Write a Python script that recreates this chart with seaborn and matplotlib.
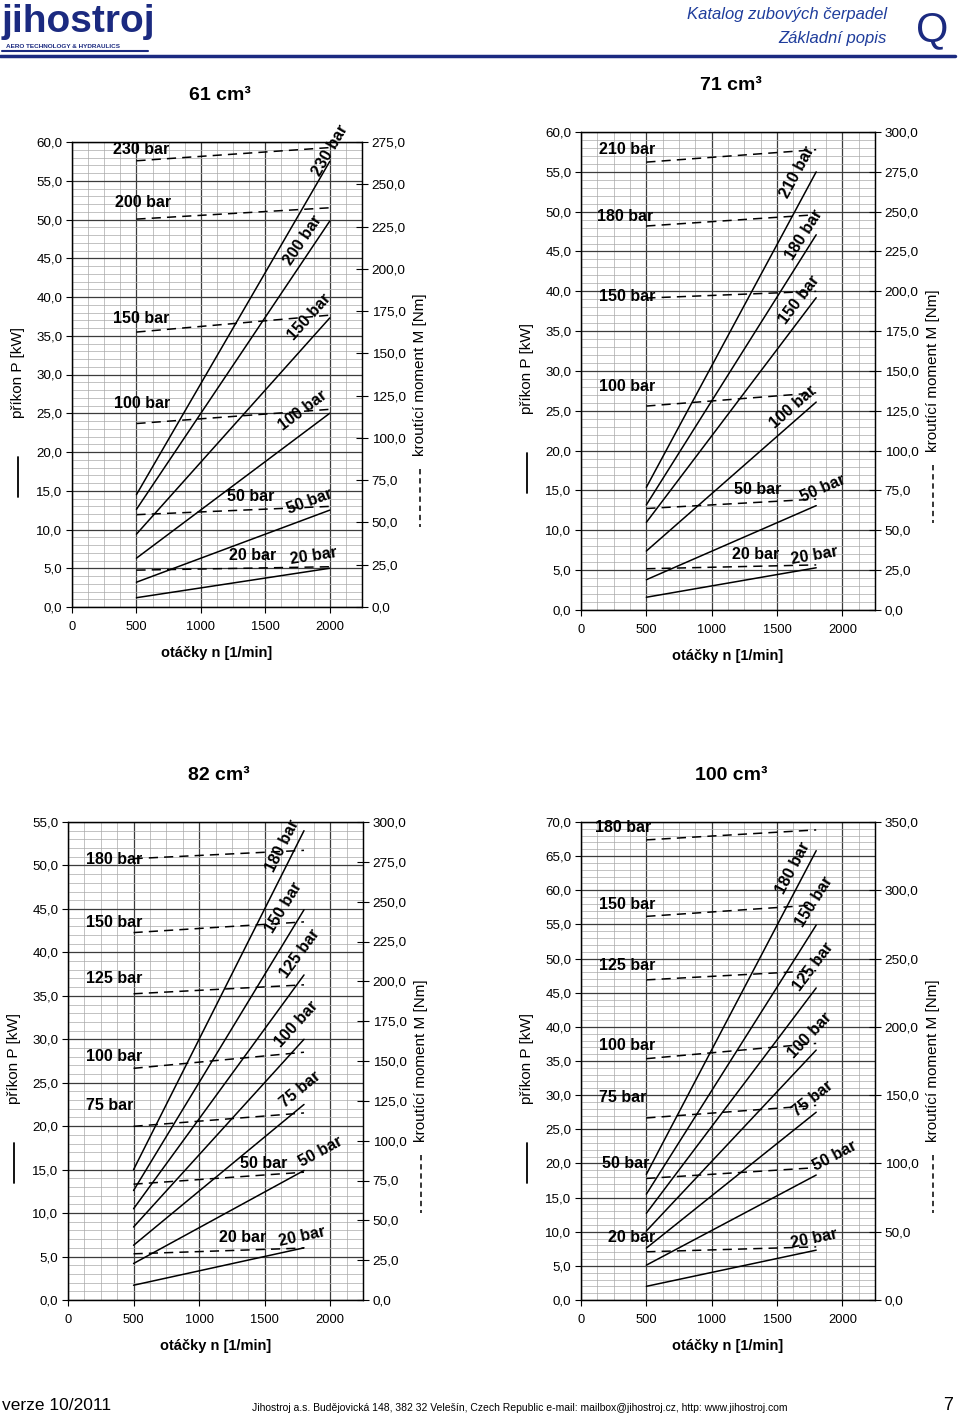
import numpy as np
import pandas as pd
import matplotlib
matplotlib.use("Agg")
import matplotlib.pyplot as plt
from matplotlib.lines import Line2D
from matplotlib.ticker import MultipleLocator, FuncFormatter
import seaborn as sns

# -------------------------------
# DATA
# power P [kW] and torque M [Nm] at start / end speed
# -------------------------------
RPM_61 = [500, 2000]
BAR_61 = [20, 50, 100, 150, 200, 230]
P0_61 = [1.2, 3.2, 6.3, 9.4, 12.6, 14.5]
P1_61 = [5.0, 12.5, 25.0, 37.3, 49.8, 57.5]
M0_61 = [21.8, 54.6, 108.5, 162.6, 229.4, 263.9]
M1_61 = [23.8, 59.5, 116.9, 172.6, 236.1, 271.7]

RPM_71 = [500, 1800]
BAR_71 = [20, 50, 100, 150, 180, 210]
P0_71 = [1.6, 3.8, 7.4, 11.0, 13.2, 15.4]
P1_71 = [5.3, 13.1, 26.1, 39.2, 47.1, 55.0]
M0_71 = [25.9, 63.7, 128.0, 195.8, 241.0, 281.1]
M1_71 = [28.3, 69.6, 136.3, 200.0, 248.1, 288.9]

RPM_82 = [500, 1800]
BAR_82 = [20, 50, 75, 100, 125, 150, 180]
P0_82 = [1.7, 4.2, 6.3, 8.4, 10.5, 12.6, 15.0]
P1_82 = [6.0, 14.9, 22.5, 30.0, 37.4, 44.9, 54.0]
M0_82 = [29.0, 72.7, 109.0, 145.4, 192.2, 230.6, 277.0]
M1_82 = [32.6, 80.2, 117.4, 155.5, 197.8, 237.3, 282.2]

RPM_100 = [500, 1800]
BAR_100 = [20, 50, 75, 100, 125, 150, 180]
P0_100 = [2.0, 5.1, 7.6, 10.1, 12.7, 15.5, 18.4]
P1_100 = [7.3, 18.3, 27.5, 36.6, 45.7, 54.9, 65.8]
M0_100 = [35.3, 89.0, 133.3, 176.7, 234.4, 280.9, 336.9]
M1_100 = [38.9, 96.9, 142.5, 187.9, 241.1, 289.3, 344.2]

# -------------------------------
# STYLE / LAYOUT
# -------------------------------
sns.set_theme(style="white")
plt.rcParams['font.family'] = ['Liberation Sans', 'DejaVu Sans']
plt.rcParams.update({"text.color": "black", "axes.labelcolor": "black",
                     "xtick.color": "black", "ytick.color": "black"})

W, H = 960, 1415
NAVY = "#1b2a80"
LBL = 11.5
fig = plt.figure(figsize=(9.6, 14.15), dpi=100)


def px_rect(x0, y0, x1, y1):
    return [x0 / W, 1 - y1 / H, (x1 - x0) / W, (y1 - y0) / H]


def ftxt(x, y, s, **kw):
    fig.text(x / W, 1 - y / H, s, **kw)


def fline(x0, y0, x1, y1, **kw):
    fig.add_artist(Line2D([x0 / W, x1 / W], [1 - y0 / H, 1 - y1 / H],
                          transform=fig.transFigure, **kw))


comma = FuncFormatter(lambda v, pos: f"{v:.1f}".replace(".", ","))


def panel(box, title, rpm, bars, p0, p1, m0, m1, pmax, mmax, mstep,
          plab_at, plab_off, mlab_x, mlab_dy):
    left, top, right, bottom = box
    ax = fig.add_axes(px_rect(*box))
    ax.set_facecolor("white")

    dfp = pd.DataFrame([(b, r, p) for b, a, c in zip(bars, p0, p1)
                        for r, p in zip(rpm, (a, c))], columns=["bar", "rpm", "P"])
    dfm = pd.DataFrame([(b, r, m) for b, a, c in zip(bars, m0, m1)
                        for r, m in zip(rpm, (a, c))], columns=["bar", "rpm", "M"])

    sns.lineplot(data=dfp, x="rpm", y="P", units="bar", estimator=None,
                 color="black", lw=1.1, ax=ax)
    ax2 = ax.twinx()
    sns.lineplot(data=dfm, x="rpm", y="M", units="bar", estimator=None,
                 color="black", lw=1.1, linestyle=(0, (6, 4)), ax=ax2)

    ax.set_xlim(0, 2250)
    ax.set_ylim(0, pmax)
    ax2.set_ylim(0, mmax)
    ax.set_xlabel("")
    ax.set_ylabel("")
    ax2.set_ylabel("")

    ax.xaxis.set_major_locator(MultipleLocator(500))
    ax.xaxis.set_minor_locator(MultipleLocator(125))
    ax.xaxis.set_major_formatter(FuncFormatter(lambda v, pos: f"{v:.0f}"))
    ax.yaxis.set_major_locator(MultipleLocator(5))
    ax.yaxis.set_minor_locator(MultipleLocator(1))
    ax.yaxis.set_major_formatter(comma)
    ax2.yaxis.set_major_locator(MultipleLocator(mstep))
    ax2.yaxis.set_major_formatter(comma)

    ax.grid(which="major", color="#3c3c3c", lw=0.9)
    ax.grid(which="minor", color="#a9a9a9", lw=0.5)

    ax.tick_params(which="major", left=True, bottom=True, direction="out",
                   length=4, width=0.8, labelsize=9.6, pad=3)
    ax.tick_params(axis="x", pad=6, labelsize=9.3)
    ax.tick_params(which="minor", length=0)
    ax2.tick_params(which="major", right=True, direction="inout", length=8,
                    width=0.8, labelsize=9.7, pad=3)
    for a in (ax, ax2):
        for sp in a.spines.values():
            sp.set_color("black")
            sp.set_linewidth(0.9)

    # power labels: beside the solid lines, near their ends
    for b, a, c, at, off in zip(bars, p0, p1, plab_at, plab_off):
        d0 = ax.transData.transform((rpm[0], a))
        d1 = ax.transData.transform((rpm[1], c))
        ang = np.degrees(np.arctan2(d1[1] - d0[1], d1[0] - d0[0]))
        th = np.radians(ang)
        y_at = a + (c - a) * (at - rpm[0]) / (rpm[1] - rpm[0])
        off_pt = off / 1.389
        ax.annotate(f"{b} bar", xy=(at, y_at),
                    xytext=(-off_pt * np.sin(th), off_pt * np.cos(th)),
                    textcoords="offset points", rotation=ang,
                    rotation_mode="anchor", ha="center", va="center",
                    fontsize=LBL, fontweight="bold", annotation_clip=False)

    # torque labels above the dashed lines
    for b, a, c, x0, dy in zip(bars, m0, m1, mlab_x, mlab_dy):
        xa = min(max(x0 + 185, rpm[0]), rpm[1])
        ya = a + (c - a) * (xa - rpm[0]) / (rpm[1] - rpm[0])
        ax2.annotate(f"{b} bar", xy=(x0, ya), xytext=(0, dy / 1.389),
                     textcoords="offset points", ha="left", va="center",
                     fontsize=LBL, fontweight="bold", annotation_clip=False)

    cx = (left + right) / 2
    cy = (top + bottom) / 2
    ftxt(cx + 3, top - 47, title, ha="center", va="center", fontsize=14,
         fontweight="bold")
    ftxt(cx, bottom + 46, "otáčky n [1/min]", ha="center", va="center",
         fontsize=10.5, fontweight="bold")
    # axis titles with their line-style keys
    ftxt(left - 54, cy - 2, "příkon P [kW]", rotation=90,
         ha="center", va="center", fontsize=11)
    fline(left - 54, cy + 82, left - 54, cy + 122, color="black", lw=1.3)
    ftxt(right + 58, cy, "kroutící moment M [Nm]",
         rotation=90, ha="center", va="center", fontsize=11)
    fline(right + 58, cy + 94, right + 58, cy + 152, color="black", lw=1.1,
          linestyle=(0, (3.5, 2.5)))


# -------------------------------
# FOUR PANELS
# -------------------------------
panel((72, 142, 362, 607), "61 cm³", RPM_61, BAR_61, P0_61, P1_61,
      M0_61, M1_61, 60, 275, 25,
      [1890, 1887, 1874, 1935, 1865, 2037],
      [14.7, 14.9, 18.5, 15.4, 11.6, 5.5],
      [1218, 1205, 325, 320, 333, 320],
      [12.2, 13.6, 20, 14, 16.7, 11.6])

panel((581, 132, 875, 610), "71 cm³", RPM_71, BAR_71, P0_71, P1_71,
      M0_71, M1_71, 60, 300, 25,
      [1804, 1890, 1682, 1745, 1774, 1767],
      [12.0, 13.1, 11.5, 12.3, 10.7, 16.7],
      [1157, 1169, 141, 141, 126, 134],
      [11.9, 13.3, 20, 1.6, 9.6, 12.7])

panel((68, 822, 363, 1300), "82 cm³", RPM_82, BAR_82, P0_82, P1_82,
      M0_82, M1_82, 55, 300, 25,
      [1801, 1954, 1839, 1832, 1869, 1766, 1721],
      [11.5, 8.3, 13.8, 15.1, 15.7, 18.1, 11.8],
      [1155, 1315, 135, 135, 135, 135, 135],
      [12.7, 11.8, 20.6, 11.5, 15.3, 10.3, -1])

panel((581, 822, 875, 1300), "100 cm³", RPM_100, BAR_100, P0_100, P1_100,
      M0_100, M1_100, 70, 350, 50,
      [1806, 1968, 1835, 1831, 1869, 1877, 1708],
      [11.6, 8.1, 12.8, 14.5, 15.3, 13.8, 12.4],
      [204, 159, 134, 139, 141, 134, 109],
      [14.5, 15, 20, 13, 14.7, 11.6, 12.3])

# -------------------------------
# HEADER / FOOTER
# -------------------------------
ftxt(2, 22, "jihostroj", ha="left", va="center", fontsize=28,
     fontweight="bold", color=NAVY)
ftxt(6, 47, "AERO TECHNOLOGY & HYDRAULICS", ha="left", va="center",
     fontsize=4.6, fontweight="bold", color=NAVY)
fline(2, 51, 148, 51, color=NAVY, lw=1.5)
ftxt(887, 14, "Katalog zubových čerpadel", ha="right", va="center",
     fontsize=12, style="italic", color="#1f3d9c")
ftxt(887, 38, "Základní popis", ha="right", va="center",
     fontsize=12, style="italic", color="#1f3d9c")
ftxt(932, 30, "Q", ha="center", va="center", fontsize=30, color=NAVY)
fline(0, 56, 955, 56, color=NAVY, lw=2.5)

ftxt(2, 1405, "verze 10/2011", ha="left", va="center", fontsize=12.5)
ftxt(520, 1408, "Jihostroj a.s. Budějovická 148, 382 32 Velešín, Czech Republic "
     "e-mail: mailbox@jihostroj.cz, http: www.jihostroj.com",
     ha="center", va="center", fontsize=7.5)
ftxt(948, 1405, "7", ha="center", va="center", fontsize=13)

fig.savefig("out.png", dpi=100)
